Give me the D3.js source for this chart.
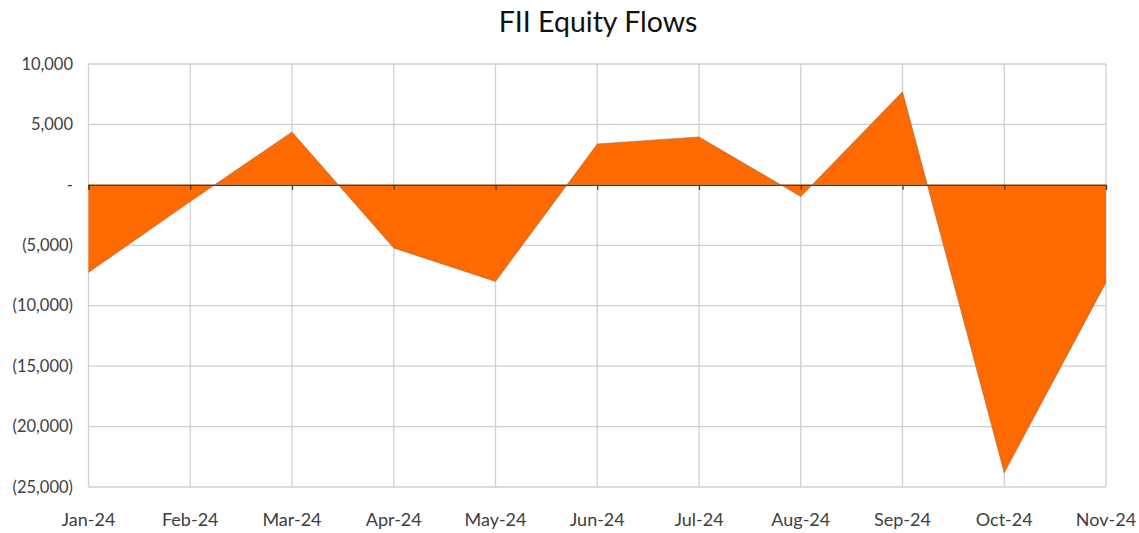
<!DOCTYPE html>
<html>
<head>
<meta charset="utf-8">
<script src="https://cdn.jsdelivr.net/npm/d3@7"></script>
<style>
  body { margin: 0; background: #fff; }
  svg { display: block; font-family: Lato, "Open Sans", sans-serif; }
</style>
</head>
<body>
<svg id="chart"></svg>
<script>
"use strict";

const months = ["Jan-24", "Feb-24", "Mar-24", "Apr-24", "May-24", "Jun-24",
                "Jul-24", "Aug-24", "Sep-24", "Oct-24", "Nov-24"];
const flows = [-7250, -1380, 4380, -5230, -7990, 3390, 3970, -970, 7710, -23830, -8070];
const yTicks = [10000, 5000, 0, -5000, -10000, -15000, -20000, -25000];

const width = 1139;
const height = 533;
const margin = {top: 64, right: 33, bottom: 46, left: 88.5};

const svg = d3.select("#chart")
    .attr("width", width)
    .attr("height", height);

const x = d3.scalePoint()
    .domain(months)
    .range([margin.left, width - margin.right]);

const y = d3.scaleLinear()
    .domain([-25000, 10000])
    .range([height - margin.bottom, margin.top]);

// accounting style labels: (5,000) for negatives, - for zero
const fmt = d => d === 0 ? "-" : d < 0 ? `(${d3.format(",")(-d)})` : d3.format(",")(d);

// gridlines
svg.append("g")
    .selectAll("line")
    .data(yTicks)
    .enter().append("line")
    .attr("x1", margin.left)
    .attr("x2", width - margin.right)
    .attr("y1", d => y(d))
    .attr("y2", d => y(d))
    .attr("stroke", "#d0d0d0")
    .attr("stroke-width", 1.3);

svg.append("g")
    .selectAll("line")
    .data(months)
    .enter().append("line")
    .attr("x1", d => x(d))
    .attr("x2", d => x(d))
    .attr("y1", margin.top)
    .attr("y2", height - margin.bottom)
    .attr("stroke", "#d0d0d0")
    .attr("stroke-width", 1.3);

// area between data and zero
const area = d3.area()
    .x((d, i) => x(months[i]))
    .y0(y(0))
    .y1(d => y(d));

svg.append("path")
    .datum(flows)
    .attr("d", area)
    .attr("fill", "#ff6a00");

svg.append("path")
    .datum(flows)
    .attr("d", d3.line().x((d, i) => x(months[i])).y(d => y(d)))
    .attr("fill", "none")
    .attr("stroke", "#7a4a30")
    .attr("stroke-width", 0.6)
    .attr("stroke-opacity", 0.7);

// zero axis with small ticks
const xAxis = svg.append("g")
    .attr("transform", `translate(0,${y(0)})`)
    .call(d3.axisBottom(x).tickSize(5).tickFormat(""));
xAxis.select(".domain").attr("stroke", "#404040").attr("stroke-width", 1.3);
xAxis.selectAll(".tick line").attr("stroke", "#404040").attr("stroke-width", 1.3);

// y labels
svg.append("g")
    .selectAll("text")
    .data(yTicks)
    .enter().append("text")
    .attr("x", 73)
    .attr("y", d => y(d))
    .attr("dy", "0.35em")
    .attr("text-anchor", "end")
    .attr("font-size", 16.5)
    .attr("fill", "#404040")
    .text(fmt);

// x labels
svg.append("g")
    .selectAll("text")
    .data(months)
    .enter().append("text")
    .attr("x", d => x(d))
    .attr("y", 520)
    .attr("dy", "0.35em")
    .attr("text-anchor", "middle")
    .attr("font-size", 18)
    .attr("fill", "#404040")
    .text(d => d);

svg.append("text")
    .attr("x", 598)
    .attr("y", 22)
    .attr("dy", "0.35em")
    .attr("text-anchor", "middle")
    .attr("font-size", 28.5)
    .attr("fill", "#111")
    .text("FII Equity Flows");
</script>
</body>
</html>
